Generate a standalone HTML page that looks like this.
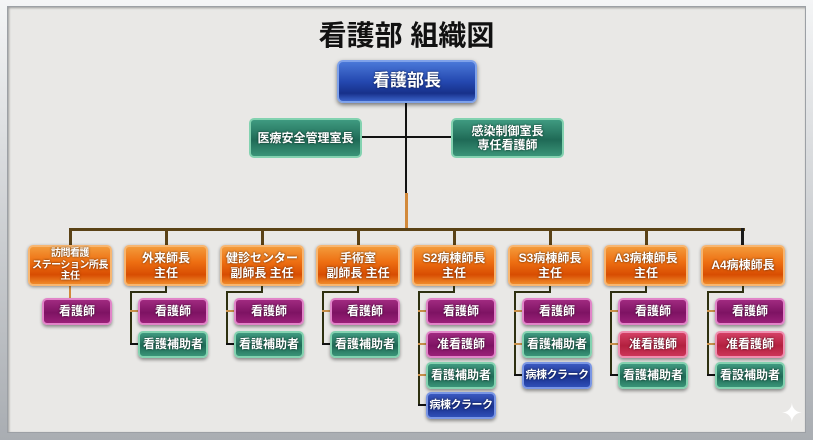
<!DOCTYPE html>
<html><head><meta charset="utf-8"><style>
*{margin:0;padding:0;box-sizing:border-box}
body{width:813px;height:440px;overflow:hidden;background:#b9bcc0;font-family:"Liberation Sans","Noto Sans CJK JP",sans-serif}
.frame{position:absolute;left:0;top:0;width:813px;height:440px;background:linear-gradient(#f4f5f6,#a9adb2);}
.panel{position:absolute;left:7px;top:6px;width:799px;height:427px;background:#e9e8e6;border:1px solid #9ca0a5;box-shadow:inset 1px 1px 2px #999}
.b{position:absolute;color:#fff;font-weight:bold;text-align:center;display:flex;align-items:center;justify-content:center;border-radius:5px;text-shadow:0 0 2px rgba(0,0,0,.7);line-height:1.2;white-space:nowrap}
.o{background:linear-gradient(#f39a3a 0%,#ee6f12 40%,#d84d02 75%,#f08a2a 100%);border:2px solid #f7b671;font-size:12px;height:41px;width:84px;top:245px;box-shadow:0 1px 3px rgba(0,0,0,.4)}
.c{font-size:12px;width:70px;height:27px;box-shadow:0 2px 3px rgba(0,0,0,.4)}
.m{background:linear-gradient(#a02a80,#7e1363 55%,#9a2078);border:2px solid #e184c8}
.r{background:linear-gradient(#d44064,#b3203f 55%,#cc3558);border:2px solid #ef8fb0}
.g{background:linear-gradient(#3f9a80,#1f6a56 55%,#3a9478);border:2px solid #83d2b0}
.u{background:linear-gradient(#3a58c0,#1a3290 55%,#2f4fb8);border:2px solid #7a96e4;font-size:11px;letter-spacing:-0.5px}
.l{position:absolute;background:#2e3010}
</style></head><body>
<div class="frame"></div><div class="panel"></div>
<div style="position:absolute;left:0;width:813px;top:14px;text-align:center;font-size:28px;font-weight:bold;color:#111">看護部&nbsp;組織図</div>
<div class="l" style="left:405px;top:103px;width:2px;height:92px;background:#111"></div>
<div class="l" style="left:405px;top:193px;width:3px;height:36px;background:#d2893a"></div>
<div class="l" style="left:362px;top:136px;width:89px;height:2px;background:#111"></div>
<div class="l" style="left:69px;top:228px;width:676px;height:3px;background:#5a4216"></div>
<div class="l" style="left:69px;top:228px;width:3px;height:18px;background:#5a4216"></div>
<div class="l" style="left:165px;top:228px;width:3px;height:18px;background:#5a4216"></div>
<div class="l" style="left:261px;top:228px;width:3px;height:18px;background:#5a4216"></div>
<div class="l" style="left:357px;top:228px;width:3px;height:18px;background:#5a4216"></div>
<div class="l" style="left:453px;top:228px;width:3px;height:18px;background:#5a4216"></div>
<div class="l" style="left:549px;top:228px;width:3px;height:18px;background:#5a4216"></div>
<div class="l" style="left:645px;top:228px;width:3px;height:18px;background:#5a4216"></div>
<div class="l" style="left:741px;top:228px;width:3px;height:18px;background:#1a1a1a"></div>
<div class="l" style="left:69px;top:286px;width:2px;height:12px;background:#d2893a"></div>

<div class="b" style="left:337px;top:60px;width:140px;height:43px;font-size:17px;border-radius:6px;background:linear-gradient(#4a78d8,#2448b0 50%,#17308a 80%,#3a62c8);border:2px solid #7fa2ea;box-shadow:0 2px 4px rgba(0,0,0,.5)">看護部長</div>
<div class="b g" style="left:249px;top:118px;width:113px;height:40px;font-size:12px">医療安全管理室長</div>
<div class="b g" style="left:451px;top:118px;width:113px;height:40px;font-size:12px">感染制御室長<br>専任看護師</div>

<div class="b o" style="left:28px;font-size:10px;line-height:1.15;letter-spacing:-0.5px">訪問看護<br>ステーション所長<br>主任</div>
<div class="b o" style="left:124px">外来師長<br>主任</div>
<div class="b o" style="left:220px">健診センター<br>副師長 主任</div>
<div class="b o" style="left:316px">手術室<br>副師長 主任</div>
<div class="b o" style="left:412px">S2病棟師長<br>主任</div>
<div class="b o" style="left:508px">S3病棟師長<br>主任</div>
<div class="b o" style="left:604px">A3病棟師長<br>主任</div>
<div class="b o" style="left:701px">A4病棟師長</div>

<div class="b c m" style="left:42px;top:298px">看護師</div>
<div id="g"></div>
<script>
var groups=[[124,["m","看護師"],["g","看護補助者"]],[220,["m","看護師"],["g","看護補助者"]],[316,["m","看護師"],["g","看護補助者"]],
[412,["m","看護師"],["m","准看護師"],["g","看護補助者"],["u","病棟クラーク"]],[508,["m","看護師"],["g","看護補助者"],["u","病棟クラーク"]],
[604,["m","看護師"],["r","准看護師"],["g","看護補助者"]],[701,["m","看護師"],["r","准看護師"],["g","看設補助者"]]];
var tops=[298,331,362,392],h="";
groups.forEach(function(g){var x=g[0],n=g.length-1,lx=x+6;
h+='<div class="l" style="left:'+(x+41)+'px;top:286px;width:2px;height:7px"></div>';
h+='<div class="l" style="left:'+lx+'px;top:291px;width:'+(x+43-lx)+'px;height:2px"></div>';
var last=tops[n-1]+13;
h+='<div class="l" style="left:'+lx+'px;top:291px;width:2px;height:'+(last-291)+'px"></div>';
for(var i=0;i<n;i++){var t=tops[i];
h+='<div class="l" style="left:'+lx+'px;top:'+(t+12)+'px;width:9px;height:2px;background:'+(i==n-1?'#111':'#c8904a')+'"></div>';
h+='<div class="b c '+g[i+1][0]+'" style="left:'+(x+14)+'px;top:'+t+'px">'+g[i+1][1]+'</div>';}
});
document.getElementById('g').innerHTML=h;
</script>
<div style="position:absolute;left:781px;top:400px;color:#fff;font-size:26px;line-height:26px">✦</div>
</body></html>
